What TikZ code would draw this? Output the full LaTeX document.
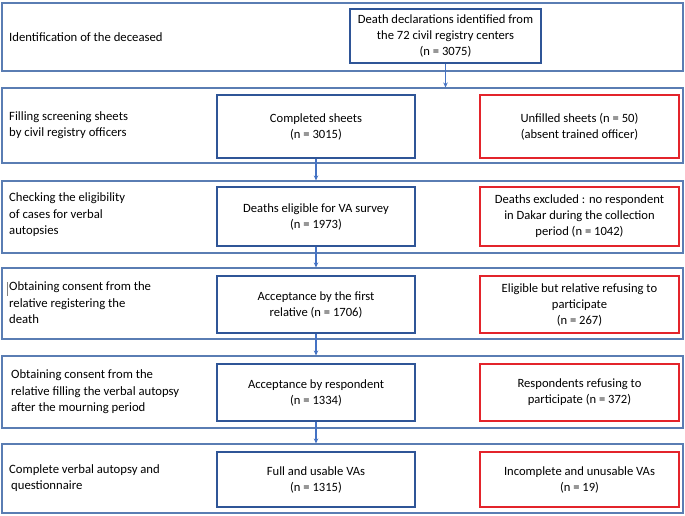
\documentclass[tikz,border=0pt]{standalone}
\usepackage{fontspec}
\setmainfont{Carlito}
\usetikzlibrary{arrows.meta}
\definecolor{outerc}{HTML}{5A7DB3}
\definecolor{bluec}{HTML}{2F5597}
\definecolor{redc}{HTML}{E3242B}
\definecolor{arrowc}{HTML}{4472C4}
\tikzset{
  rowbox/.style={draw=outerc, line width=1.1pt, minimum width=681pt, inner sep=0pt},
  bluebox/.style={draw=bluec, line width=1.8pt, minimum width=198pt, inner sep=0pt, align=center, font=\fontsize{12.6}{16}\selectfont},
  redbox/.style={draw=redc, line width=1.8pt, minimum width=199pt, inner sep=0pt, align=center, font=\fontsize{12.6}{16}\selectfont},
  lefttext/.style={anchor=west, align=left, inner sep=0pt, font=\fontsize{12.7}{16.5}\selectfont},
  flow/.style={draw=arrowc, line width=1.1pt, -{Stealth[length=5pt,width=4.5pt]}}
}
\begin{document}
\begin{tikzpicture}[x=1pt,y=-1pt]
\useasboundingbox (0,0) rectangle (685,516);
% rows
\node[rowbox, minimum height=68pt] (r1) at (342.5,37) {};
\node[rowbox, minimum height=75pt] (r2) at (342.5,125.5) {};
\node[rowbox, minimum height=72pt] (r3) at (342.5,217) {};
\node[rowbox, minimum height=71pt] (r4) at (342.5,303.5) {};
\node[rowbox, minimum height=72pt] (r5) at (342.5,392) {};
\node[rowbox, minimum height=69pt] (r6) at (342.5,478.5) {};
% left labels
\node[lefttext] (l1) at (9,37) {Identification of the deceased};
\node[lefttext] (l2) at (9,125) {Filling screening sheets\\by civil registry officers};
\node[lefttext] (l3) at (9,215) {Checking the eligibility\\of cases for verbal\\autopsies};
\node[lefttext] (l4) at (9,303) {Obtaining consent from the\\relative registering the\\death};
\node[lefttext] (l5) at (11,392) {Obtaining consent from the\\relative filling the verbal autopsy\\after the mourning period};
\node[lefttext] (l6) at (9,478) {Complete verbal autopsy and\\\hspace{2pt}questionnaire};
\draw[gray, line width=0.5pt] (l4.north west) ++(-2,0) coordinate (cur) -- ++(0,14);
% boxes
\node[bluebox, minimum width=191pt, minimum height=54pt] (b1) at (445.5,36) {Death declarations identified from\\the 72 civil registry centers\\(n = 3075)};
\node[bluebox, minimum height=63pt] (b2) at (316,126.5) {Completed sheets\\(n = 3015)};
\node[redbox, minimum height=63pt] (x2) at (579.5,126.5) {Unfilled sheets (n = 50)\\(absent trained officer)};
\node[bluebox, minimum height=59pt] (b3) at (316,216.5) {Deaths eligible for VA survey\\(n = 1973)};
\node[redbox, minimum height=59pt] (x3) at (579.5,216.5) {Deaths excluded : no respondent\\in Dakar during the collection\\period (n = 1042)};
\node[bluebox, minimum height=57pt] (b4) at (316,304.5) {Acceptance by the first\\relative (n = 1706)};
\node[redbox, minimum height=57pt] (x4) at (579.5,304.5) {Eligible but relative refusing to\\participate\\(n = 267)};
\node[bluebox, minimum height=57pt] (b5) at (316,392.5) {Acceptance by respondent\\(n = 1334)};
\node[redbox, minimum height=57pt] (x5) at (579.5,392.5) {Respondents refusing to\\participate (n = 372)};
\node[bluebox, minimum height=55pt] (b6) at (316,479.5) {Full and usable VAs\\(n = 1315)};
\node[redbox, minimum height=55pt] (x6) at (579.5,479.5) {Incomplete and unusable VAs\\(n = 19)};
% arrows
\draw[flow] (b1.south) -- (b1.south |- r2.north);
\draw[flow] (b2.south) -- (b2.south |- r3.north);
\draw[flow] (b3.south) -- (b3.south |- r4.north);
\draw[flow] (b4.south) -- (b4.south |- r5.north);
\draw[flow] (b5.south) -- (b5.south |- r6.north);
\end{tikzpicture}
\end{document}
